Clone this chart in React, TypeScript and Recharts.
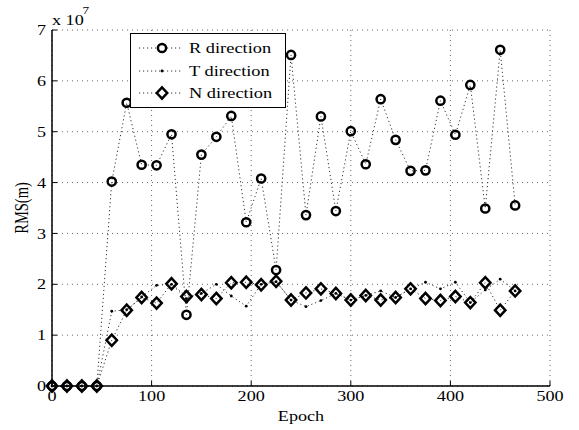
import React from "react";
import { LineChart, Line, XAxis, YAxis, CartesianGrid, Legend } from "recharts";

// values in units of 1e7 m
const epochs = [
  0, 15, 30, 45, 60, 75, 90, 105, 120, 135, 150, 165, 180, 195, 210, 225,
  240, 255, 270, 285, 300, 315, 330, 345, 360, 375, 390, 405, 420, 435, 450, 465,
];
const rDirection = [
  0, 0, 0, 0, 4.02, 5.57, 4.35, 4.34, 4.95, 1.4, 4.55, 4.9, 5.31, 3.22, 4.08, 2.28,
  6.51, 3.36, 5.3, 3.44, 5.01, 4.36, 5.64, 4.84, 4.23, 4.24, 5.61, 4.94, 5.92, 3.49, 6.61, 3.55,
];
const tDirection = [
  0, 0, 0, 0, 1.47, 1.5, 1.75, 1.98, 2.0, 1.72, 1.82, 2.0, 1.77, 1.57, 2.0, 2.05,
  1.69, 1.56, 1.68, 1.82, 1.69, 1.78, 1.87, 1.74, 1.91, 2.04, 1.91, 2.04, 1.64, 1.89, 2.1, 1.87,
];
const nDirection = [
  0, 0, 0, 0, 0.9, 1.49, 1.74, 1.63, 2.01, 1.76, 1.8, 1.72, 2.03, 2.04, 1.99, 2.06,
  1.69, 1.83, 1.91, 1.82, 1.69, 1.78, 1.69, 1.74, 1.91, 1.72, 1.68, 1.76, 1.64, 2.03, 1.49, 1.87,
];
const seriesNames = ["R direction", "T direction", "N direction"];
const xTicks = [0, 100, 200, 300, 400, 500];
const yTicks = [0, 1, 2, 3, 4, 5, 6, 7];

const data = epochs.map((epoch, i) => ({
  epoch,
  r: rDirection[i],
  t: tDirection[i],
  n: nDirection[i],
}));

const FONT = "'Liberation Serif', 'Times New Roman', serif";
const STRETCH = 1.25;
const lineDash = "1.2 2.8";
const MARK_W = 2.5;

const XTick = (props: any) => {
  const { x, y, payload } = props;
  return (
    <g transform={`translate(${x},${y}) scale(${STRETCH},1)`}>
      <text x={0} y={0} dy="0.72em" textAnchor="middle" fontFamily={FONT} fontSize={14.5} fill="#000">
        {payload.value}
      </text>
    </g>
  );
};

const YTick = (props: any) => {
  const { x, y, payload } = props;
  return (
    <g transform={`translate(${x},${y}) scale(${STRETCH},1)`}>
      <text x={0} y={0} dy="0.35em" textAnchor="end" fontFamily={FONT} fontSize={14.5} fill="#000">
        {payload.value}
      </text>
    </g>
  );
};

const circleDot = (props: any) => {
  const { cx, cy, index } = props;
  return <circle key={`r-${index}`} cx={cx} cy={cy} r={4.1} fill="none" stroke="#000" strokeWidth={MARK_W} />;
};

const pointDot = (props: any) => {
  const { cx, cy, index } = props;
  return <circle key={`t-${index}`} cx={cx} cy={cy} r={1.4} fill="#000" />;
};

const diamondPath = (cx: number, cy: number) =>
  `${cx},${cy - 5.6} ${cx + 5.2},${cy} ${cx},${cy + 5.6} ${cx - 5.2},${cy}`;

const diamondDot = (props: any) => {
  const { cx, cy, index } = props;
  return (
    <polygon key={`n-${index}`} points={diamondPath(cx, cy)} fill="none" stroke="#000" strokeWidth={MARK_W} />
  );
};

const LegendBox = () => {
  const rows = [15, 38, 60];
  return (
    <svg width={156} height={75} style={{ display: "block" }}>
      <rect x={0.5} y={0.5} width={155} height={74} fill="#fff" stroke="#000" strokeWidth={1} />
      {seriesNames.map((name, i) => {
        const y = rows[i];
        return (
          <g key={name}>
            <line x1={9} x2={52} y1={y} y2={y} stroke="#333" strokeDasharray={lineDash} />
            {i === 0 && <circle cx={32} cy={y} r={4.1} fill="#fff" stroke="#000" strokeWidth={MARK_W} />}
            {i === 1 && <circle cx={32} cy={y} r={1.4} fill="#000" />}
            {i === 2 && (
              <polygon points={diamondPath(32, y)} fill="#fff" stroke="#000" strokeWidth={MARK_W} />
            )}
            <g transform={`translate(59,${y + 5}) scale(${STRETCH},1)`}>
              <text x={0} y={0} fontFamily={FONT} fontSize={14.7} fill="#000">
                {name}
              </text>
            </g>
          </g>
        );
      })}
    </svg>
  );
};

const EpochLabel = (props: any) => {
  const { viewBox } = props;
  const cx = viewBox.x + viewBox.width / 2;
  return (
    <g transform={`translate(${cx},${viewBox.y + 35}) scale(${STRETCH},1)`}>
      <text x={0} y={0} textAnchor="middle" fontFamily={FONT} fontSize={14.5} fill="#000">
        Epoch
      </text>
    </g>
  );
};

const RmsLabel = (props: any) => {
  const { viewBox } = props;
  const cy = viewBox.y + viewBox.height / 2;
  const right = viewBox.x + viewBox.width;
  return (
    <g>
      <text
        x={0}
        y={0}
        transform={`translate(${viewBox.x + 16},${cy}) rotate(-90) scale(1,${STRETCH})`}
        textAnchor="middle"
        fontFamily={FONT}
        fontSize={14.5}
        fill="#000"
      >
        RMS(m)
      </text>
      <g transform={`translate(${right},${viewBox.y - 5}) scale(${STRETCH},1)`}>
        <text x={0} y={0} fontFamily={FONT} fontSize={14.5} fill="#000">
          x 10
        </text>
        <text x={24.5} y={-11} fontFamily={FONT} fontSize={10.5} fill="#000">
          7
        </text>
      </g>
    </g>
  );
};

export default function App() {
  return (
    <div style={{ position: "absolute", left: 0, top: 0, width: 579, height: 430, background: "#fff" }}>
      <LineChart width={579} height={430} data={data} margin={{ top: 30, right: 29, left: 12, bottom: 14 }}>
        <CartesianGrid stroke="#666" strokeDasharray="1 4" strokeWidth={1} />
        <XAxis
          dataKey="epoch"
          type="number"
          domain={[0, 500]}
          ticks={xTicks}
          height={30}
          tickSize={-5}
          tickMargin={10}
          tick={<XTick />}
          axisLine={{ stroke: "#000", strokeWidth: 1.5 }}
          tickLine={{ stroke: "#000" }}
          label={{ content: <EpochLabel /> }}
        />
        <XAxis
          xAxisId="top"
          dataKey="epoch"
          type="number"
          orientation="top"
          domain={[0, 500]}
          ticks={xTicks}
          height={0}
          tickSize={-5}
          tick={false}
          axisLine={{ stroke: "#000", strokeWidth: 1.5 }}
          tickLine={{ stroke: "#000" }}
        />
        <YAxis
          type="number"
          domain={[0, 7]}
          ticks={yTicks}
          width={40}
          tickSize={-5}
          tickMargin={11}
          tick={<YTick />}
          axisLine={{ stroke: "#000", strokeWidth: 1.5 }}
          tickLine={{ stroke: "#000" }}
          label={{ content: <RmsLabel /> }}
        />
        <YAxis
          yAxisId="right"
          type="number"
          orientation="right"
          domain={[0, 7]}
          ticks={yTicks}
          width={0}
          tickSize={-5}
          tick={false}
          axisLine={{ stroke: "#000", strokeWidth: 1.5 }}
          tickLine={{ stroke: "#000" }}
        />
        <Legend
          layout="horizontal"
          verticalAlign="middle"
          align="center"
          content={<LegendBox />}
          wrapperStyle={{ left: 130, top: 33, width: 156, height: 75 }}
        />
        <Line
          type="linear"
          dataKey="r"
          name={seriesNames[0]}
          stroke="#333"
          strokeWidth={1}
          strokeDasharray={lineDash}
          dot={circleDot}
          activeDot={false}
          isAnimationActive={false}
        />
        <Line
          type="linear"
          dataKey="t"
          name={seriesNames[1]}
          stroke="#333"
          strokeWidth={1}
          strokeDasharray={lineDash}
          dot={pointDot}
          activeDot={false}
          isAnimationActive={false}
        />
        <Line
          type="linear"
          dataKey="n"
          name={seriesNames[2]}
          stroke="#333"
          strokeWidth={1}
          strokeDasharray={lineDash}
          dot={diamondDot}
          activeDot={false}
          isAnimationActive={false}
        />
      </LineChart>
    </div>
  );
}
